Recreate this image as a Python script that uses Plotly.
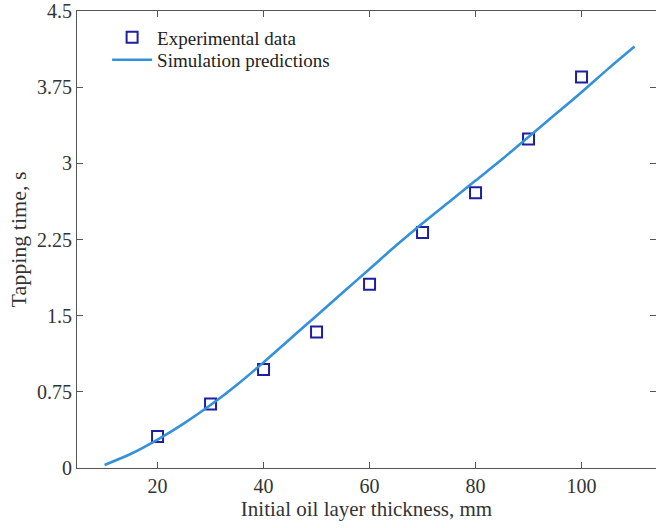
import plotly.graph_objects as go

# Experimental data
exp_x = [20, 30, 40, 50, 60, 70, 80, 90, 100]
exp_y = [0.31, 0.63, 0.97, 1.34, 1.81, 2.32, 2.71, 3.24, 3.85]

# Simulation predictions
sim_x = [10, 15, 20, 25, 30, 35, 40, 45, 50, 55, 60, 65, 70, 75, 80, 85, 90, 95, 100, 105, 110]
sim_y = [0.03, 0.14, 0.28, 0.44, 0.62, 0.82, 1.04, 1.27, 1.50, 1.73, 1.96, 2.19, 2.41, 2.62,
         2.83, 3.04, 3.26, 3.48, 3.70, 3.93, 4.15]

x_ticks = [20, 40, 60, 80, 100]
y_ticks = [0, 0.75, 1.5, 2.25, 3, 3.75, 4.5]
y_tick_text = ["0", "0.75", "1.5", "2.25", "3", "3.75", "4.5"]

FONT = "Liberation Serif"
AX = "#555555"

fig = go.Figure()
fig.add_trace(go.Scatter(
    x=exp_x, y=exp_y, mode="markers", name="Experimental data", legend="legend",
    marker=dict(symbol="square-open", size=11, color="#1f1f9e", line=dict(width=2, color="#1f1f9e")),
))
fig.add_trace(go.Scatter(
    x=sim_x, y=sim_y, mode="lines", name="Simulation predictions", legend="legend2",
    line=dict(color="#3391dc", width=2.6, shape="spline", smoothing=0.8),
))
# invisible trace for right-side ticks
fig.add_trace(go.Scatter(x=[sim_x[0]], y=[sim_y[0]], yaxis="y2", mode="markers",
                         marker=dict(opacity=0), showlegend=False, hoverinfo="skip"))

leg_common = dict(xanchor="left", yanchor="middle", bgcolor="rgba(0,0,0,0)",
                  font=dict(family=FONT, size=19, color="#222222"), itemwidth=40)

fig.update_layout(
    width=656, height=528,
    margin=dict(l=77, r=0, t=9, b=60),
    paper_bgcolor="white", plot_bgcolor="white",
    font=dict(family=FONT, size=20, color="#333333"),
    showlegend=True,
    legend=dict(x=0.052, y=0.942, **leg_common),
    legend2=dict(x=0.052, y=0.893, **leg_common),
    xaxis=dict(
        range=[4.8, 114.05], tickvals=x_ticks, ticks="inside", ticklen=6, tickcolor=AX,
        showline=True, linecolor=AX, linewidth=1.2, mirror="ticks", showgrid=False, zeroline=False,
        title=dict(text="Initial oil layer thickness, mm", font=dict(size=21, family=FONT), standoff=4),
        tickfont=dict(size=20, family=FONT),
    ),
    yaxis=dict(
        range=[0, 4.5], tickvals=y_ticks, ticktext=y_tick_text, ticks="inside", ticklen=6, tickcolor=AX,
        showline=True, linecolor=AX, linewidth=1.2, showgrid=False, zeroline=False,
        ticklabeloverflow="allow",
        title=dict(text="Tapping time, s", font=dict(size=22, family=FONT), standoff=4),
        tickfont=dict(size=20, family=FONT),
    ),
    yaxis2=dict(
        overlaying="y", side="right", matches="y", range=[0, 4.5], tickvals=y_ticks,
        ticks="inside", ticklen=6, tickcolor=AX, showticklabels=False, showline=False,
        showgrid=False, zeroline=False,
    ),
)

fig.write_html("out.html")
